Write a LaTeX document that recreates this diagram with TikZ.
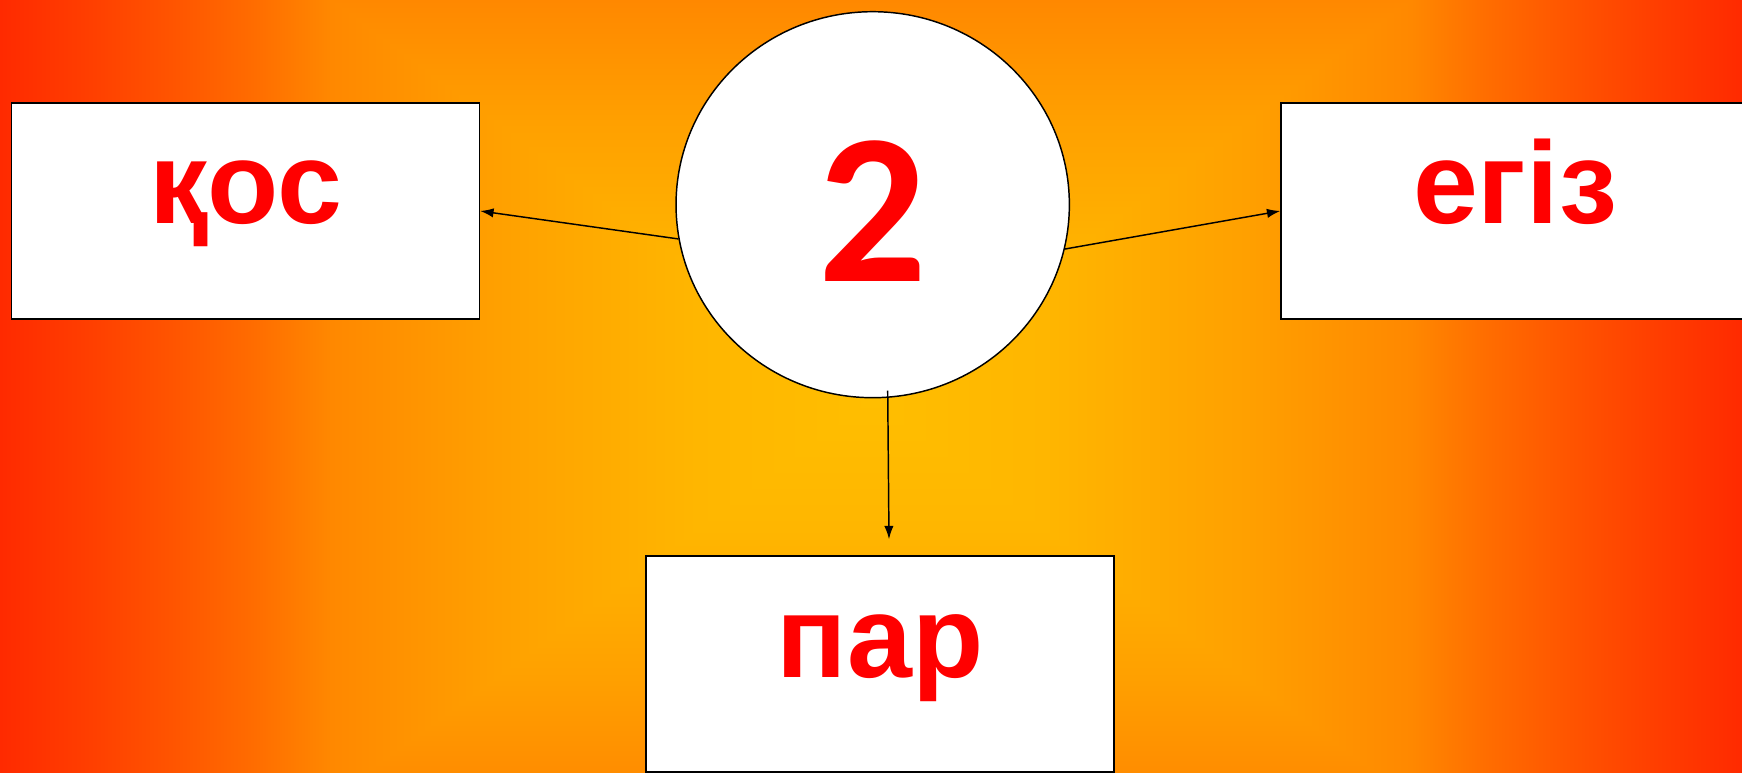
\documentclass[tikz,border=0pt]{standalone}
\usepackage{fontspec}
\setmainfont{Liberation Sans}
\newfontfamily\digitfont{Carlito}
\usetikzlibrary{arrows.meta,shapes.geometric}

\definecolor{cA}{RGB}{255,42,0}
\definecolor{cB}{RGB}{255,62,0}
\definecolor{cC}{RGB}{255,85,0}
\definecolor{cD}{RGB}{255,108,0}
\definecolor{cE}{RGB}{255,136,0}
\definecolor{cF}{RGB}{255,160,0}
\definecolor{cG}{RGB}{255,182,0}
\definecolor{cH}{RGB}{255,190,0}
\definecolor{cI}{RGB}{255,141,0}
\definecolor{txtred}{RGB}{255,0,0}

\pgfdeclarehorizontalshading{bgh}{100bp}{color(0bp)=(cA); color(25bp)=(cA); color(27.5bp)=(cB); color(30bp)=(cC); color(32.25bp)=(cD); color(34.5bp)=(cE); color(39.25bp)=(cF); color(45bp)=(cG); color(50bp)=(cH); color(55bp)=(cG); color(60.75bp)=(cF); color(65.5bp)=(cE); color(67.75bp)=(cD); color(70bp)=(cC); color(72.5bp)=(cB); color(75bp)=(cA); color(100bp)=(cA)}
\pgfdeclareverticalshading{bgtop}{100bp}{color(0bp)=(cH); color(25bp)=(cH); color(41.13bp)=(cG); color(59.68bp)=(cF); color(75bp)=(cE); color(100bp)=(cE)}
\pgfdeclareverticalshading{bgbot}{100bp}{color(0bp)=(cI); color(25bp)=(cI); color(37.8bp)=(cF); color(57.7bp)=(cG); color(75bp)=(cH); color(100bp)=(cH)}

\begin{document}
\begin{tikzpicture}[x=0.75pt,y=-0.75pt,
  wordbox/.style={draw=black, line width=1.1pt, fill=white, rectangle,
    minimum width=351pt, minimum height=162pt, inner sep=0pt,
    text height=19.5pt, text depth=0pt, text=txtred,
    font=\bfseries\fontsize{87.5pt}{96pt}\selectfont},
  numcircle/.style={draw=black, line width=1.1pt, fill=white, ellipse,
    minimum width=295pt, minimum height=289.5pt, inner sep=0pt,
    text height=115.5pt, text depth=0pt, text=txtred,
    font=\digitfont\bfseries\fontsize{161pt}{170pt}\selectfont},
  conn/.style={draw=black, line width=1.1pt, -{Latex[length=10pt,width=7pt]}}]
\useasboundingbox (0,0) rectangle (1742,773);
\shade[shading=bgh] (0,0) rectangle (1742,773);
\shade[shading=bgtop] (331,0) -- (1411,0) -- (871,400) -- cycle;
\shade[shading=bgbot] (367,773) -- (1375,773) -- (871,400) -- cycle;

\node[numcircle] (c) at (872.7,204.7) {2};
\node[wordbox] (L) at (245.5,211) {қос};
\node[wordbox] (R) at (1515,211) {егіз};
\node[wordbox] (B) at (880,664) {пар};

\draw[conn] (c.190) -- (L.east);
\draw[conn] (c.347) -- (R.west);
\draw[conn] ([xshift=11.25pt,yshift=5.8pt]c.south) -- ([xshift=6.75pt,yshift=12pt]B.north);
\end{tikzpicture}
\end{document}
